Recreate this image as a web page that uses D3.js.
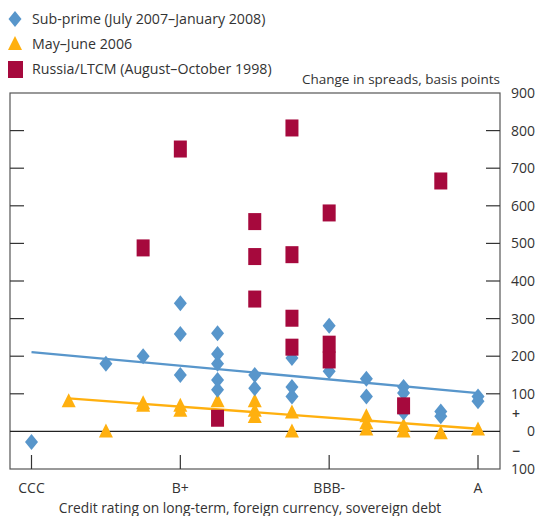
<!DOCTYPE html>
<html>
<head>
<meta charset="utf-8">
<script src="https://cdn.jsdelivr.net/npm/d3@7"></script>
<style>
  body { margin: 0; background: #fff; }
  svg text { font-family: 'Open Sans', 'Noto Sans', sans-serif; fill: #333; }
</style>
</head>
<body>
<svg id="chart" width="536" height="516"></svg>
<script>
// rating scale, left to right
var ratings = ['CCC', 'CCC+', 'B-', 'B', 'B+', 'BB-', 'BB', 'BB+', 'BBB-', 'BBB', 'BBB+', 'A-', 'A'];
var ratingLabels = ['CCC', 'B+', 'BBB-', 'A'];
var yTicks = [900, 800, 700, 600, 500, 400, 300, 200, 100, 0, -100];

// [rating, change in spreads (bp)]
var subprime = [
    ['CCC', -28], ['B-', 180], ['B', 200],
    ['B+', 341], ['B+', 259], ['B+', 150],
    ['BB-', 261], ['BB-', 206], ['BB-', 180], ['BB-', 137], ['BB-', 111],
    ['BB', 150], ['BB', 115],
    ['BB+', 195], ['BB+', 118], ['BB+', 93],
    ['BBB-', 281], ['BBB-', 160],
    ['BBB', 140], ['BBB', 93],
    ['BBB+', 118], ['BBB+', 102], ['BBB+', 50],
    ['A-', 53], ['A-', 40],
    ['A', 93], ['A', 80]
];
var mayJune = [
    ['CCC+', 80], ['B-', 0], ['B', 75], ['B', 68],
    ['B+', 68], ['B+', 55], ['BB-', 80],
    ['BB', 80], ['BB', 55], ['BB', 38],
    ['BB+', 50], ['BB+', 0],
    ['BBB', 40], ['BBB', 22], ['BBB', 5],
    ['BBB+', 15], ['BBB+', 0],
    ['A-', -5], ['A', 5]
];
var russia = [
    ['B', 488], ['B+', 751], ['BB-', 35],
    ['BB', 558], ['BB', 465], ['BB', 352],
    ['BB+', 807], ['BB+', 470], ['BB+', 301], ['BB+', 224],
    ['BBB-', 581], ['BBB-', 232], ['BBB-', 190],
    ['BBB+', 68], ['A-', 666]
];
// fitted trend lines, end points
var subprimeTrend = [['CCC', 211], ['A', 102]];
var mayJuneTrend = [['CCC+', 88], ['A', 7]];

function drawChart() {
    var blue = '#5896cb', orange = '#ffb00f', maroon = '#a6093d';

    var svg = d3.select('#chart');
    var pLeft = 10, pRight = 500, pTop = 93, pBottom = 469;

    var x = d3.scalePoint().domain(ratings).range([31.5, 478]);
    var y = d3.scaleLinear().domain([-100, 900]).range([pBottom, pTop]);

    // frame
    svg.append('rect')
        .attr('x', pLeft).attr('y', pTop)
        .attr('width', pRight - pLeft).attr('height', pBottom - pTop)
        .attr('fill', 'none').attr('stroke', '#555').attr('stroke-width', 1.2);

    // inner ticks both sides
    var inner = yTicks.filter(function (d) { return d > 0 && d < 900; });
    svg.selectAll('.ltick').data(inner).enter().append('line')
        .attr('x1', pLeft).attr('x2', pLeft + 14)
        .attr('y1', function (d) { return y(d); }).attr('y2', function (d) { return y(d); })
        .attr('stroke', '#333').attr('stroke-width', 1.2);
    svg.selectAll('.rtick').data(inner).enter().append('line')
        .attr('x1', pRight - 14).attr('x2', pRight)
        .attr('y1', function (d) { return y(d); }).attr('y2', function (d) { return y(d); })
        .attr('stroke', '#333').attr('stroke-width', 1.2);

    // zero line
    svg.append('line')
        .attr('x1', pLeft).attr('x2', pRight)
        .attr('y1', y(0)).attr('y2', y(0))
        .attr('stroke', '#222').attr('stroke-width', 1.3);

    // x ticks
    svg.selectAll('.xtick').data(ratingLabels).enter().append('line')
        .attr('x1', function (d) { return x(d); }).attr('x2', function (d) { return x(d); })
        .attr('y1', pBottom).attr('y2', pBottom - 14)
        .attr('stroke', '#333').attr('stroke-width', 1.2);
    svg.selectAll('.xlab').data(ratingLabels).enter().append('text')
        .attr('x', function (d) { return x(d); }).attr('y', 493)
        .attr('text-anchor', 'middle').attr('font-size', 14)
        .text(function (d) { return d; });

    // y labels on the right
    svg.selectAll('.ylab').data(yTicks).enter().append('text')
        .attr('x', 535).attr('y', function (d) { return y(d) + 5; })
        .attr('text-anchor', 'end').attr('font-size', 14)
        .text(function (d) { return Math.abs(d); });
    svg.append('text').attr('x', 516).attr('y', y(50) + 6)
        .attr('text-anchor', 'middle').attr('font-size', 14).attr('font-weight', 600).text('+');
    svg.append('text').attr('x', 516).attr('y', y(-50) + 6)
        .attr('text-anchor', 'middle').attr('font-size', 14).attr('font-weight', 600).text('\u2212');

    svg.append('text').attr('x', 500).attr('y', 84)
        .attr('text-anchor', 'end').attr('font-size', 13.5)
        .text('Change in spreads, basis points');
    svg.append('text').attr('x', 250).attr('y', 513)
        .attr('text-anchor', 'middle').attr('font-size', 13.8)
        .text('Credit rating on long-term, foreign currency, sovereign debt');

    // trend lines
    var line = d3.line().x(function (d) { return x(d[0]); }).y(function (d) { return y(d[1]); });
    svg.append('path').datum(subprimeTrend).attr('d', line)
        .attr('stroke', blue).attr('stroke-width', 2.3).attr('fill', 'none');
    svg.append('path').datum(mayJuneTrend).attr('d', line)
        .attr('stroke', orange).attr('stroke-width', 2.3).attr('fill', 'none');

    // markers
    function diamond(cx, cy) {
        return 'M' + cx + ',' + (cy - 8) + 'L' + (cx + 6.5) + ',' + cy + 'L' + cx + ',' + (cy + 8) + 'L' + (cx - 6.5) + ',' + cy + 'Z';
    }
    function triangle(cx, cy) {
        return 'M' + cx + ',' + (cy - 8) + 'L' + (cx + 7) + ',' + (cy + 6) + 'L' + (cx - 7) + ',' + (cy + 6) + 'Z';
    }

    svg.selectAll('.tri').data(mayJune).enter().append('path')
        .attr('d', function (d) { return triangle(x(d[0]), y(d[1])); })
        .attr('fill', orange);
    svg.selectAll('.dia').data(subprime).enter().append('path')
        .attr('d', function (d) { return diamond(x(d[0]), y(d[1])); })
        .attr('fill', blue);
    svg.selectAll('.sq').data(russia).enter().append('rect')
        .attr('x', function (d) { return x(d[0]) - 6.5; })
        .attr('y', function (d) { return y(d[1]) - 8.5; })
        .attr('width', 13).attr('height', 17)
        .attr('fill', maroon);

    // legend
    var legend = [
        { name: 'Sub-prime (July 2007\u2013January 2008)', type: 'dia' },
        { name: 'May\u2013June 2006', type: 'tri' },
        { name: 'Russia/LTCM (August\u2013October 1998)', type: 'sq' }
    ];
    legend.forEach(function (l, i) {
        var cy = 19 + i * 25;
        if (l.type === 'dia') svg.append('path').attr('d', diamond(15, cy)).attr('fill', blue);
        if (l.type === 'tri') svg.append('path').attr('d', triangle(15, cy)).attr('fill', orange);
        if (l.type === 'sq') svg.append('rect').attr('x', 8).attr('y', cy - 8).attr('width', 15).attr('height', 17).attr('fill', maroon);
        svg.append('text').attr('x', 32).attr('y', cy + 5).attr('font-size', 14.2).text(l.name);
    });
}

drawChart();
</script>
</body>
</html>
